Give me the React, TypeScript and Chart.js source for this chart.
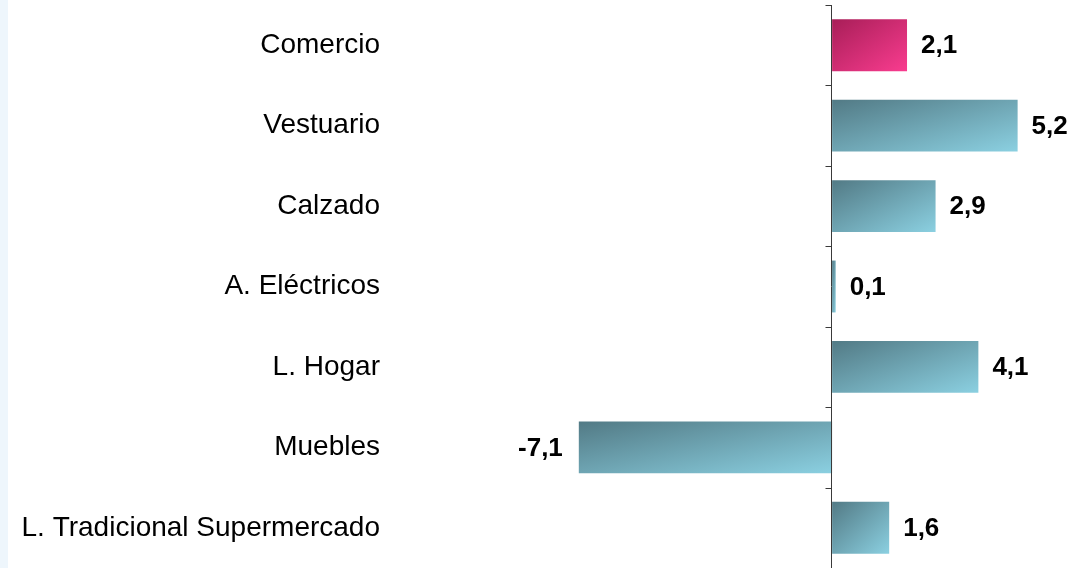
import React, { useEffect, useRef } from "react";
import { Chart, registerables } from "chart.js";

Chart.register(...registerables);

const categories: string[] = [
  "Comercio",
  "Vestuario",
  "Calzado",
  "A. Eléctricos",
  "L. Hogar",
  "Muebles",
  "L. Tradicional Supermercado",
];
const values: number[] = [2.1, 5.2, 2.9, 0.1, 4.1, -7.1, 1.6];
const valueLabels: string[] = ["2,1", "5,2", "2,9", "0,1", "4,1", "-7,1", "1,6"];

const FONT = "'Liberation Sans', Arial, Helvetica, sans-serif";
const BAR_PCT = 0.645;
const PINK: [string, string] = ["#a81e58", "#f93c8f"];
const TEAL: [string, string] = ["#527a85", "#8bd0e1"];

function barGradient(ctx: any) {
  const chart = ctx.chart;
  const { chartArea, scales } = chart;
  const cols = ctx.dataIndex === 0 ? PINK : TEAL;
  if (!chartArea || !scales || !scales.x || !scales.y || ctx.type !== "data") return cols[1];
  const v = values[ctx.dataIndex];
  const xa = scales.x.getPixelForValue(0);
  const xb = scales.x.getPixelForValue(v);
  const yc = scales.y.getPixelForValue(ctx.dataIndex);
  const catH = (chartArea.bottom - chartArea.top) / categories.length;
  const h = catH * BAR_PCT;
  const left = Math.min(xa, xb);
  const w = Math.max(Math.abs(xb - xa), 0.5);
  const top = yc - h / 2;
  const k = (2 * w * h) / (h * h + w * w);
  const g = chart.ctx.createLinearGradient(left, top, left + h * k, top + w * k);
  g.addColorStop(0, cols[0]);
  g.addColorStop(1, cols[1]);
  return g;
}

const axisPlugin = {
  id: "zeroAxis",
  afterDatasetsDraw(chart: any) {
    const { ctx, chartArea, scales } = chart;
    const x0 = Math.round(scales.x.getPixelForValue(0)) - 0.5;
    const n = categories.length;
    const step = (chartArea.bottom - chartArea.top) / n;
    ctx.save();
    ctx.strokeStyle = "#3a3a3a";
    ctx.lineWidth = 1;
    ctx.beginPath();
    ctx.moveTo(x0, chartArea.top);
    ctx.lineTo(x0, chartArea.bottom);
    for (let i = 0; i <= n; i++) {
      const y = Math.round(chartArea.top + i * step) + 0.5;
      ctx.moveTo(x0 - 6, y);
      ctx.lineTo(x0, y);
    }
    ctx.stroke();

    const meta = chart.getDatasetMeta(0);
    ctx.fillStyle = "#000000";
    ctx.font = `bold 26px ${FONT}`;
    ctx.textBaseline = "middle";
    meta.data.forEach((bar: any, i: number) => {
      const v = values[i];
      if (v >= 0) {
        ctx.textAlign = "left";
        ctx.fillText(valueLabels[i], bar.x + 14, bar.y + 1);
      } else {
        ctx.textAlign = "right";
        ctx.fillText(valueLabels[i], bar.x - 16, bar.y + 1);
      }
    });
    ctx.restore();
  },
};

export default function App() {
  const ref = useRef<HTMLCanvasElement | null>(null);
  useEffect(() => {
    if (!ref.current) return;
    const chart = new Chart(ref.current, {
      type: "bar",
      data: {
        labels: categories,
        datasets: [
          {
            data: values,
            backgroundColor: barGradient as any,
            borderWidth: 0,
            barPercentage: BAR_PCT,
            categoryPercentage: 1,
          },
        ],
      },
      options: {
        indexAxis: "y",
        responsive: false,
        animation: false,
        layout: { padding: { top: 5, right: 8, bottom: 0, left: 0 } },
        plugins: { legend: { display: false }, tooltip: { enabled: false } },
        scales: {
          x: {
            display: false,
            min: -12,
            max: 6.5,
          },
          y: {
            grid: { display: false, drawTicks: false },
            border: { display: false },
            ticks: {
              color: "#000000",
              padding: 24,
              font: { family: FONT, size: 28 },
            },
            afterFit: (scale: any) => {
              scale.width = 404;
              scale.paddingTop = 0;
              scale.paddingBottom = 0;
            },
          },
        },
      },
      plugins: [axisPlugin],
    });
    return () => chart.destroy();
  }, []);

  return (
    <div style={{ position: "fixed", left: 0, top: 0, width: 1072, height: 568, background: "#ffffff", overflow: "hidden" }}>
      <div style={{ position: "absolute", left: 0, top: 0, width: 8, height: 568, background: "#eef6fc" }} />
      <canvas ref={ref} width={1072} height={568} style={{ position: "absolute", left: 0, top: 0 }} />
    </div>
  );
}
